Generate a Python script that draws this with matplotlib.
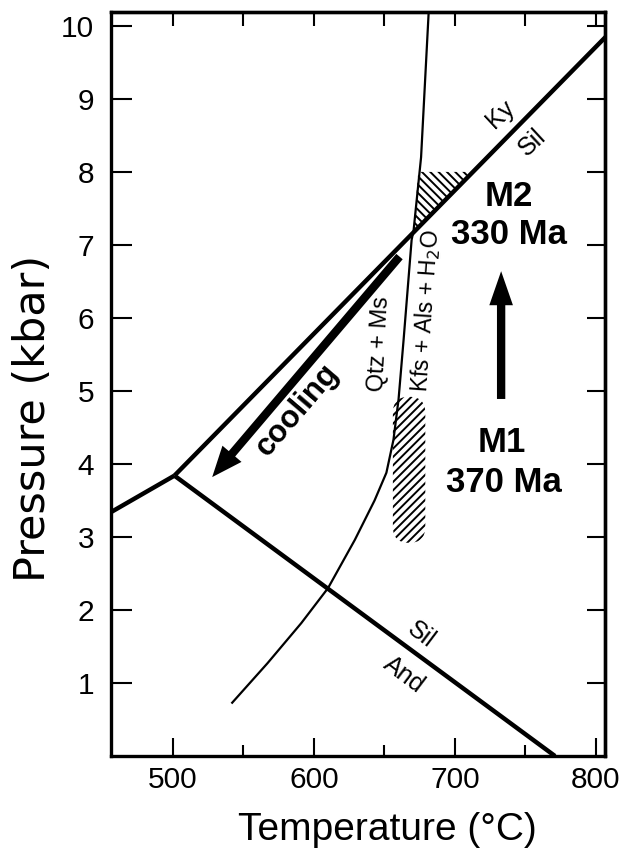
import numpy as np
import matplotlib
matplotlib.use('Agg')
import matplotlib.pyplot as plt
from matplotlib.patches import Polygon, FancyBboxPatch

plt.rcParams['font.family'] = ['Liberation Sans', 'DejaVu Sans']
plt.rcParams['hatch.linewidth'] = 1.4

# phase boundaries (T in degC, P in kbar)
ky_sil_T = [501, 807]
ky_sil_P = [3.84, 9.85]
and_sil_T = [501, 771]
and_sil_P = [3.84, 0.0]
ky_and_T = [456, 501]
ky_and_P = [3.34, 3.84]

# Qtz + Ms = Kfs + Als + H2O
ms_T = [542, 567, 591, 610, 629, 643, 651.4, 656.4, 660, 663.6, 669.3, 670.7, 676, 681.4]
ms_P = [0.73, 1.27, 1.82, 2.3, 2.96, 3.5, 3.88, 4.33, 4.88, 5.7, 7.07, 7.2, 8.2, 10.19]

# M2 hatched field and M1 hatched box
m2_T = [670.7, 674, 711]
m2_P = [7.2, 8.0, 8.0]
m1_T = (656, 679)
m1_P = (2.92, 4.92)

# arrows: (tail, tip)
cooling_arrow = ((660.7, 6.84), (527.8, 3.82))
m1_m2_arrow = ((732.8, 4.89), (732.8, 6.64))

xticks_major = [500, 600, 700, 800]
xticks_minor = [550, 650, 750]
yticks = [1, 2, 3, 4, 5, 6, 7, 8, 9, 10]

fig = plt.figure(figsize=(6.24, 8.5), dpi=100)
ax = fig.add_axes([111 / 624, 1 - 756 / 850, 494 / 624, 744 / 850])
ax.set_xlim(456, 806.5)
ax.set_ylim(0, 10.19)

ax.plot(ky_sil_T, ky_sil_P, color='black', lw=3.2, solid_capstyle='butt')
ax.plot(and_sil_T, and_sil_P, color='black', lw=3.2, solid_capstyle='butt')
ax.plot(ky_and_T, ky_and_P, color='black', lw=3.2, solid_capstyle='butt')
ax.plot(ms_T, ms_P, color='black', lw=1.6)

ax.add_patch(Polygon(np.column_stack([m2_T, m2_P]), closed=True, facecolor='none',
                     edgecolor='black', lw=0, hatch='\\\\\\\\'))
ax.add_patch(FancyBboxPatch((m1_T[0], m1_P[0]), m1_T[1] - m1_T[0], m1_P[1] - m1_P[0],
                            boxstyle='round,pad=0,rounding_size=11.3', mutation_aspect=0.0194,
                            facecolor='none', edgecolor='black', lw=0, hatch='////'))

for (tail, tip), hw, hl in [(cooling_arrow, 1.8, 2.2), (m1_m2_arrow, 1.7, 2.45)]:
    ax.annotate('', xy=tip, xytext=tail,
                arrowprops=dict(arrowstyle=f'simple,head_width={hw},head_length={hl},tail_width=0.6',
                                fc='black', ec='black', lw=0, shrinkA=0, shrinkB=0,
                                mutation_scale=10))

ax.text(732, 8.79, 'Ky', fontsize=18, rotation=43, ha='center', va='center', rotation_mode='anchor')
ax.text(755, 8.41, 'Sil', fontsize=18, rotation=43, ha='center', va='center', rotation_mode='anchor')
ax.text(676, 1.66, 'Sil', fontsize=18, rotation=-37, ha='center', va='center', rotation_mode='anchor')
ax.text(664, 1.11, 'And', fontsize=18, rotation=-37, ha='center', va='center', rotation_mode='anchor')
ax.text(646.4, 5.64, 'Qtz + Ms', fontsize=17, rotation=87, ha='center', va='center',
        rotation_mode='anchor')
ax.text(679.5, 6.1, 'Kfs + Als + H$_2$O', fontsize=16.5, rotation=86, ha='center', va='center',
        rotation_mode='anchor')
ax.text(588, 4.74, 'cooling', fontsize=22.5, fontweight='bold', rotation=49.5, ha='center',
        va='center', rotation_mode='anchor')
ax.text(738.6, 7.66, 'M2', fontsize=25, fontweight='bold', ha='center', va='center')
ax.text(738.6, 7.14, '330 Ma', fontsize=25, fontweight='bold', ha='center', va='center')
ax.text(733.6, 4.30, 'M1', fontsize=25, fontweight='bold', ha='center', va='center')
ax.text(735, 3.74, '370 Ma', fontsize=25, fontweight='bold', ha='center', va='center')

for s in ax.spines.values():
    s.set_linewidth(2.4)

ax.set_xticks(xticks_major)
ax.set_xticks(xticks_minor, minor=True)
ax.set_yticks(yticks)
ax.tick_params(axis='x', which='major', direction='in', length=13, width=1.5,
               labelsize=21.5, pad=7)
ax.tick_params(axis='x', which='minor', direction='in', length=8, width=1.5)
ax.tick_params(axis='y', direction='in', length=15, width=1.5, labelsize=21.5, pad=12)

top = ax.secondary_xaxis('top')
top.set_xticks(xticks_major + xticks_minor)
top.tick_params(direction='in', length=10, width=1.5, labeltop=False)
right = ax.secondary_yaxis('right')
right.set_yticks(yticks)
right.tick_params(direction='in', length=13, width=1.5, labelright=False)
for sec in (top, right):
    for s in sec.spines.values():
        s.set_linewidth(2.4)

ax.set_xlabel('Temperature (°C)', fontsize=28)
ax.xaxis.set_label_coords(0.56, -0.075)
ax.set_ylabel('Pressure (kbar)', fontsize=31, family='DejaVu Sans')
ax.yaxis.set_label_coords(-0.115, 0.454)

fig.savefig('out.png', dpi=100)
